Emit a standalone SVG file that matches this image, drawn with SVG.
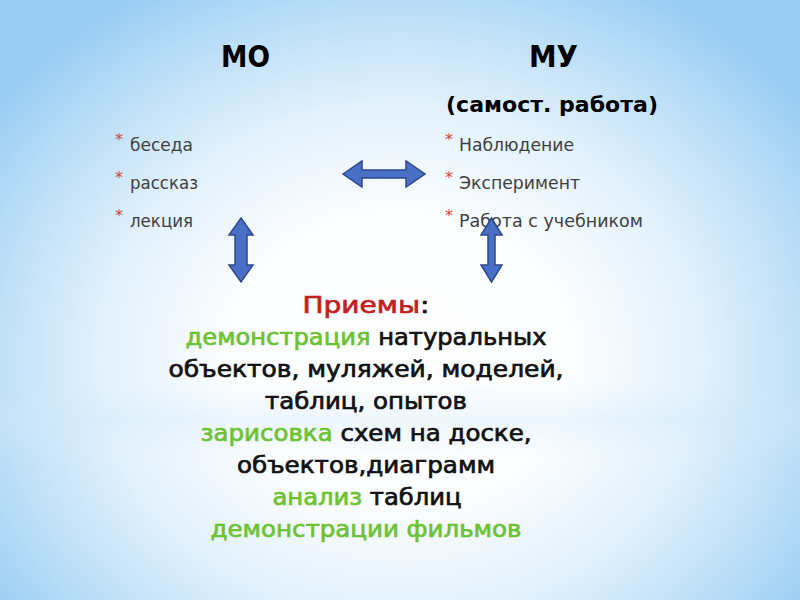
<svg xmlns="http://www.w3.org/2000/svg" width="800" height="600" viewBox="0 0 800 600">
  <defs>
    <radialGradient id="bg" gradientUnits="userSpaceOnUse" cx="400" cy="360" r="500" gradientTransform="translate(400 360) scale(1 0.85) translate(-400 -360)">
      <stop offset="0" stop-color="#ffffff"/>
      <stop offset="0.35" stop-color="#fbfdff"/>
      <stop offset="0.6" stop-color="#e2f1fc"/>
      <stop offset="0.85" stop-color="#b6dcf7"/>
      <stop offset="1" stop-color="#9acdf3"/>
    </radialGradient>
    <linearGradient id="band" x1="0" y1="0" x2="0" y2="1">
      <stop offset="0" stop-color="#d6ecfb" stop-opacity="0"/>
      <stop offset="0.5" stop-color="#cfe8fa" stop-opacity="0.35"/>
      <stop offset="1" stop-color="#d6ecfb" stop-opacity="0"/>
    </linearGradient>
  </defs>
  <style>
    .h { font-family: "DejaVu Sans", "Liberation Sans", sans-serif; font-weight: bold; fill: #000; }
    .b { font-family: "DejaVu Sans", "Liberation Sans", sans-serif; font-size: 17.5px; fill: #404040; }
    .s { font-family: "DejaVu Sans", "Liberation Sans", sans-serif; font-size: 16px; fill: #d0463c; }
    .m { font-family: "DejaVu Sans", "Liberation Sans", sans-serif; font-size: 23px; fill: #111; stroke: #111; stroke-width: 0.7px; text-anchor: middle; }
    .g { fill: #6cc232; stroke: #6cc232; }
    .r { fill: #c0201e; stroke: #c0201e; }
    .arrow { fill: #4a6fc7; stroke: #2c4a8a; stroke-width: 1.5; stroke-linejoin: miter; }
  </style>
  <rect x="0" y="0" width="800" height="600" fill="url(#bg)"/>
  <rect x="0" y="380" width="800" height="80" fill="url(#band)"/>

  <g id="mo">
    <text class="h" x="221" y="67" font-size="30" textLength="49" lengthAdjust="spacingAndGlyphs">МО</text>
    <g id="mo-list">
      <text class="s" x="115" y="145">*</text>
      <text class="b" x="130" y="151" textLength="63" lengthAdjust="spacingAndGlyphs">беседа</text>
      <text class="s" x="115" y="183">*</text>
      <text class="b" x="130" y="189" textLength="68" lengthAdjust="spacingAndGlyphs">рассказ</text>
      <text class="s" x="115" y="221">*</text>
      <text class="b" x="130" y="227" textLength="63" lengthAdjust="spacingAndGlyphs">лекция</text>
    </g>
  </g>

  <g id="mu">
    <text class="h" x="529" y="67" font-size="30" textLength="49" lengthAdjust="spacingAndGlyphs">МУ</text>
    <text class="h" x="446" y="112" font-size="22" textLength="212" lengthAdjust="spacingAndGlyphs">(самост. работа)</text>
    <g id="mu-list">
      <text class="s" x="445" y="145">*</text>
      <text class="b" x="459" y="151" textLength="115" lengthAdjust="spacingAndGlyphs">Наблюдение</text>
      <text class="s" x="445" y="183">*</text>
      <text class="b" x="459" y="189" textLength="121" lengthAdjust="spacingAndGlyphs">Эксперимент</text>
      <text class="s" x="445" y="221">*</text>
      <text class="b" x="459" y="227" textLength="184" lengthAdjust="spacingAndGlyphs">Работа с учебником</text>
    </g>
  </g>

  <g id="connectors">
    <path class="arrow" d="M343,174 L362,161 L362,170 L406,170 L406,161 L425,174 L406,187 L406,178 L362,178 L362,187 Z"/>
    <path class="arrow" d="M241,218 L253,235 L247,235 L247,265 L253,265 L241,282 L229,265 L235,265 L235,235 L229,235 Z"/>
    <path class="arrow" d="M491.5,218 L502,235 L495,235 L495,265 L502,265 L491.5,282 L481,265 L488,265 L488,235 L481,235 Z"/>
  </g>

  <g id="priemy">
    <text class="m" x="366" y="313" textLength="127" lengthAdjust="spacingAndGlyphs"><tspan class="r">Приемы</tspan>:</text>
    <text class="m" x="366" y="345" textLength="361" lengthAdjust="spacingAndGlyphs"><tspan class="g">демонстрация</tspan> натуральных</text>
    <text class="m" x="366" y="377" textLength="395" lengthAdjust="spacingAndGlyphs">объектов, муляжей, моделей,</text>
    <text class="m" x="366" y="409" textLength="202" lengthAdjust="spacingAndGlyphs">таблиц, опытов</text>
    <text class="m" x="366" y="441" textLength="331" lengthAdjust="spacingAndGlyphs"><tspan class="g">зарисовка</tspan> схем на доске,</text>
    <text class="m" x="366" y="473" textLength="258" lengthAdjust="spacingAndGlyphs">объектов,диаграмм</text>
    <text class="m" x="367" y="505" textLength="189" lengthAdjust="spacingAndGlyphs"><tspan class="g">анализ</tspan> таблиц</text>
    <text class="m g" x="366" y="537" textLength="311" lengthAdjust="spacingAndGlyphs">демонстрации фильмов</text>
  </g>
</svg>
